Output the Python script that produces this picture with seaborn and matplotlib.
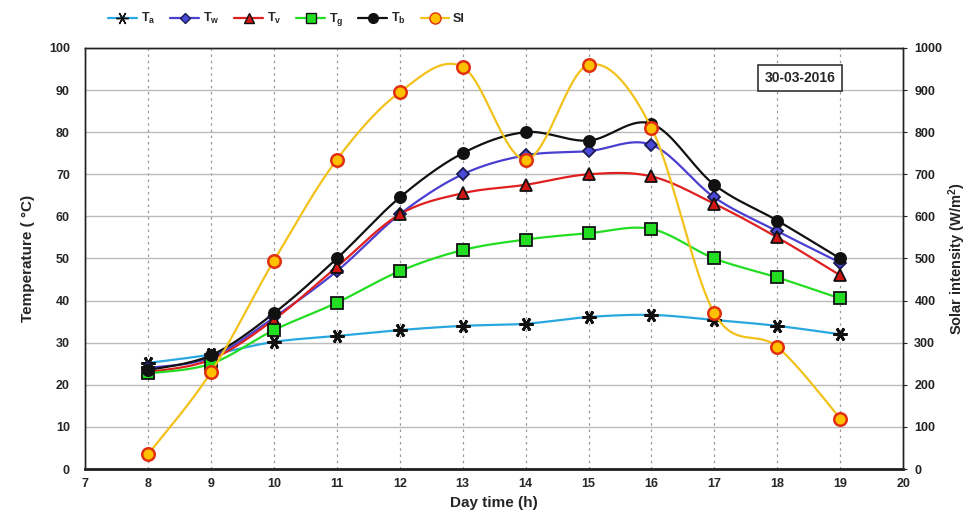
import numpy as np
import pandas as pd
import seaborn as sns
import matplotlib.pyplot as plt
from matplotlib.lines import Line2D

hours = [8, 9, 10, 11, 12, 13, 14, 15, 16, 17, 18, 19]
t_a = [25.2, 27.2, 30.2, 31.6, 33.0, 34.0, 34.5, 36.1, 36.6, 35.4, 34.0, 32.0]
t_w = [24.0, 26.5, 36.0, 47.0, 60.5, 70.0, 74.5, 75.5, 77.0, 64.5, 56.5, 49.0]
t_v = [23.0, 26.0, 35.5, 48.0, 60.5, 65.5, 67.5, 70.0, 69.5, 63.0, 55.0, 46.0]
t_g = [22.7, 25.0, 33.0, 39.5, 47.0, 52.0, 54.5, 56.0, 57.0, 50.0, 45.5, 40.5]
t_b = [23.5, 27.0, 37.0, 50.0, 64.5, 75.0, 80.0, 78.0, 82.0, 67.5, 59.0, 50.0]
solar = [35, 230, 495, 735, 895, 955, 735, 960, 810, 370, 290, 120]

sns.set_style('white')
plt.rcParams['font.family'] = ['Liberation Sans', 'DejaVu Sans']
plt.rcParams['mathtext.default'] = 'regular'


def smooth(x, y, n=20):
    # Excel-like smoothed line (Bezier through the points)
    x = np.asarray(x, float)
    y = np.asarray(y, float)
    px = np.concatenate([[x[0]], x, [x[-1]]])
    py = np.concatenate([[y[0]], y, [y[-1]]])
    xs, ys = [], []
    t = np.linspace(0, 1, n, endpoint=False)
    for i in range(1, len(px) - 2):
        p0 = np.array([px[i], py[i]])
        p3 = np.array([px[i + 1], py[i + 1]])
        c1 = p0 + (np.array([px[i + 1], py[i + 1]]) - np.array([px[i - 1], py[i - 1]])) / 6
        c2 = p3 - (np.array([px[i + 2], py[i + 2]]) - np.array([px[i], py[i]])) / 6
        pts = ((1 - t) ** 3)[:, None] * p0 + (3 * (1 - t) ** 2 * t)[:, None] * c1 \
            + (3 * (1 - t) * t ** 2)[:, None] * c2 + (t ** 3)[:, None] * p3
        xs.extend(pts[:, 0])
        ys.extend(pts[:, 1])
    xs.append(x[-1])
    ys.append(y[-1])
    return pd.DataFrame({'x': xs, 'y': ys})


fig = plt.figure(figsize=(9.68, 5.27), dpi=100)
ax = fig.add_axes([0.088, 0.110, 0.845, 0.799])
ax2 = ax.twinx()

series = [
    ('T$_a$', t_a, '#29a8e0', (6, 2, 90), '#111111', '#111111', 10),
    ('T$_w$', t_w, '#4a3fd0', 'D', '#4a4ad8', '#1a1a50', 6),
    ('T$_v$', t_v, '#e02020', '^', '#d01515', '#111111', 8),
    ('T$_g$', t_g, '#22dd22', 's', '#22dd22', '#111111', 8),
    ('T$_b$', t_b, '#111111', 'o', '#111111', '#111111', 8),
]

handles = []
for name, vals, lc, mk, fc, ec, ms in series:
    sm = smooth(hours, vals)
    sns.lineplot(data=sm, x='x', y='y', sort=False, estimator=None, ax=ax,
                 color=lc, linewidth=1.6, zorder=3)
    ax.plot(hours, vals, linestyle='none', marker=mk, markersize=ms,
            markerfacecolor=fc, markeredgecolor=ec,
            markeredgewidth=1.3 if mk != (6, 2, 90) else 2, zorder=4)
    handles.append(Line2D([0], [0], color=lc, linewidth=1.6, marker=mk, markersize=ms - 1,
                          markerfacecolor=fc, markeredgecolor=ec, label=name))

sm = smooth(hours, solar)
sns.lineplot(data=sm, x='x', y='y', sort=False, estimator=None, ax=ax2,
             color='#f2c21b', linewidth=1.6, zorder=3)
ax2.plot(hours, solar, linestyle='none', marker='o', markersize=9,
         markerfacecolor='#ffc000', markeredgecolor='#e03010', markeredgewidth=1.8, zorder=4)
handles.append(Line2D([0], [0], color='#f2c21b', linewidth=1.6, marker='o', markersize=8,
                      markerfacecolor='#ffc000', markeredgecolor='#e03010', label='SI'))

ax.set_xlim(7, 20)
ax.set_ylim(0, 100)
ax2.set_ylim(0, 1000)
ax.set_xticks(range(7, 21))
ax.set_yticks(range(0, 101, 10))
ax2.set_yticks(range(0, 1001, 100))

ax.grid(axis='y', color='#bbbbbb', linewidth=1, linestyle='-')
ax.grid(axis='x', color='#999999', linewidth=0.9, linestyle=(0, (2, 3)))
ax.set_axisbelow(True)

for a in (ax, ax2):
    a.tick_params(labelsize=9, length=3, direction='out')
    for lab in a.get_xticklabels() + a.get_yticklabels():
        lab.set_fontweight('bold')
    for sp in a.spines.values():
        sp.set_color('#222222')
        sp.set_linewidth(1)
ax.tick_params(axis='y', left=False, pad=8)
ax2.tick_params(axis='y', right=True, colors='#222222', pad=5)
ax.spines['bottom'].set_linewidth(2)

ax.set_xlabel('Day time (h)', fontsize=11, fontweight='bold')
ax.set_ylabel('Temperature ( °C)', fontsize=11, fontweight='bold', labelpad=10)
ax2.set_xlabel('')
ax2.set_ylabel('Solar intensity (W/m$^2$)', fontsize=10.5, fontweight='bold', labelpad=3)

ax.text(0.874, 0.929, '30-03-2016', transform=ax.transAxes, ha='center', va='center',
        fontsize=10, fontweight='bold', zorder=6,
        bbox=dict(boxstyle='square,pad=0.45', facecolor='white', edgecolor='#333333', linewidth=1.2))

fig.legend(handles=handles, loc='upper left', bbox_to_anchor=(0.1, 1.0), ncol=6,
           frameon=False, handlelength=2.3, columnspacing=1.2,
           handletextpad=0.3, prop={'weight': 'bold', 'size': 9})

fig.savefig('out.png', dpi=100)
